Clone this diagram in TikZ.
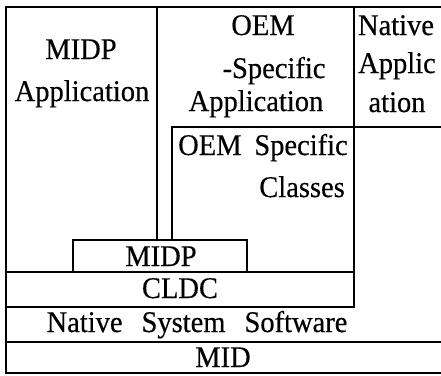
\documentclass[tikz,border=0pt]{standalone}
\usepackage{fontspec}
\setmainfont{Liberation Serif}[WordSpace=1.8, FakeStretch=0.95, FakeBold=0.4]
\begin{document}
\begin{tikzpicture}[x=1pt,y=-1pt,
  wall/.style={line width=2.6pt, line cap=rect, black},
  lbl/.style={inner sep=0pt, anchor=base, font=\fontsize{30}{32}\selectfont}]
\useasboundingbox (0,0) rectangle (441,375);
% outer frame
\draw[wall] (441,7) -- (6,7) -- (6,373) -- (441,373);
% column dividers
\draw[wall] (157,7) -- (157,240);
\draw[wall] (354,7) -- (354,307);
% OEM specific classes box
\draw[wall] (441,127) -- (172,127) -- (172,240);
% MIDP box
\draw[wall] (73,272) -- (73,240) -- (247,240) -- (247,272);
% CLDC
\draw[wall] (6,272) -- (354,272);
\draw[wall] (6,307) -- (354,307);
% Native system software / MID
\draw[wall] (6,342) -- (441,342);
% labels
\node[lbl] (ma1) at (81,59) {MIDP};
\node[lbl] (ma2) at (82,101) {Application};
\node[lbl] (oa1) at (263,35) {OEM};
\node[lbl] (oa2) at (274,78) {-Specific};
\node[lbl] (oa3) at (256,111) {Application};
\node[lbl] (na1) at (396,35) {Native};
\node[lbl] (na2) at (397,73) {Applic};
\node[lbl] (na3) at (397,112) {ation};
\node[lbl, anchor=base west] (oc1) at (178,155) {OEM Specific};
\node[lbl, anchor=base east] (oc2) at (345,197) {Classes};
\node[lbl] (midp) at (161,266) {MIDP};
\node[lbl] (cldc) at (180,298) {CLDC};
\node[lbl] (nss) at (197,332) {Native\hspace{19pt}System\hspace{19pt}Software};
\node[lbl] (mid) at (223,367) {MID};
\end{tikzpicture}
\end{document}
